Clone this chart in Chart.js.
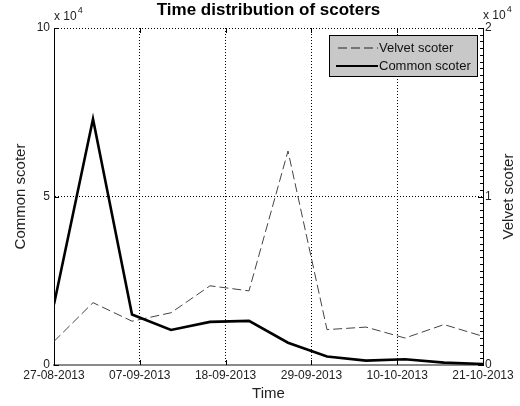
<!DOCTYPE html>
<html>
<head>
<meta charset="utf-8">
<script src="https://cdn.jsdelivr.net/npm/chart.js@4/dist/chart.umd.min.js"></script>
<style>
  html, body { margin: 0; padding: 0; background: #fff; }
  #wrap { width: 520px; height: 406px; }
</style>
</head>
<body>
<div id="wrap"><canvas id="c" width="520" height="406"></canvas></div>
<script>
// Survey dates (every 5 days) and counts per species
const sampleDates = ['2013-08-27','2013-09-01','2013-09-06','2013-09-11','2013-09-16','2013-09-21',
                     '2013-09-26','2013-10-01','2013-10-06','2013-10-11','2013-10-16','2013-10-21'];
const commonScoter = [18000, 73000, 15000, 10400, 12800, 13100, 6600, 2500, 1300, 1700, 700, 300];
const velvetScoter = [1400, 3700, 2600, 3100, 4700, 4400, 12700, 2100, 2250, 1600, 2400, 1700];
const xTickLabels = ['27-08-2013','07-09-2013','18-09-2013','29-09-2013','10-10-2013','21-10-2013'];
const leftTickLabels = ['0', '5', '10'];
const rightTickLabels = ['0', '1', '2'];

const FONT = "'Liberation Sans', Arial, Helvetica, sans-serif";
const TEXT = '#222';

const dayMs = 86400000;
const t0 = Date.parse(sampleDates[0] + 'T00:00:00Z');
const dayOffset = d => Math.round((Date.parse(d + 'T00:00:00Z') - t0) / dayMs);
const lastDay = dayOffset(sampleDates[sampleDates.length - 1]);
const toPoints = vals => vals.map((v, i) => ({ x: dayOffset(sampleDates[i]), y: v }));

// Title, axis titles, exponents, inward ticks and legend box
const decorations = {
  id: 'decorations',
  afterDraw(chart) {
    const ctx = chart.ctx;
    const a = chart.chartArea;
    const sx = chart.scales.x, sy = chart.scales.y, sy2 = chart.scales.y2;
    ctx.save();

    // inward tick marks
    ctx.strokeStyle = '#000';
    ctx.lineWidth = 1;
    ctx.setLineDash([]);
    ctx.beginPath();
    sx.ticks.forEach(t => {
      const px = Math.round(sx.getPixelForValue(t.value)) + 0.5;
      ctx.moveTo(px, a.bottom); ctx.lineTo(px, a.bottom - 5);
      ctx.moveTo(px, a.top); ctx.lineTo(px, a.top + 5);
    });
    sy.ticks.forEach(t => {
      const py = Math.round(sy.getPixelForValue(t.value)) + 0.5;
      ctx.moveTo(a.left, py); ctx.lineTo(a.left + 5, py);
    });
    sy2.ticks.forEach(t => {
      const py = Math.round(sy2.getPixelForValue(t.value)) + 0.5;
      ctx.moveTo(a.right, py); ctx.lineTo(a.right - 5, py);
    });
    for (let v = 0; v <= sy2.max; v += 400) {
      const py = Math.round(sy2.getPixelForValue(v)) + 0.5;
      ctx.moveTo(a.right, py); ctx.lineTo(a.right - 3, py);
    }
    ctx.stroke();

    // title
    ctx.fillStyle = '#000';
    ctx.textAlign = 'center';
    ctx.textBaseline = 'alphabetic';
    ctx.font = 'bold 17px ' + FONT;
    ctx.fillText('Time distribution of scoters', (a.left + a.right) / 2, 15);

    // exponent markers
    ctx.fillStyle = TEXT;
    ctx.textAlign = 'left';
    ctx.font = '12px ' + FONT;
    ctx.fillText('x 10', a.left, 20);
    ctx.fillText('x 10', a.right, 19);
    const w = ctx.measureText('x 10').width;
    ctx.font = '9px ' + FONT;
    ctx.fillText('4', a.left + w + 1, 13);
    ctx.fillText('4', a.right + w + 1, 12);

    // axis titles
    ctx.font = '15px ' + FONT;
    ctx.textAlign = 'center';
    ctx.textBaseline = 'middle';
    ctx.fillText('Time', (a.left + a.right) / 2, 394);
    ctx.save();
    ctx.translate(21, (a.top + a.bottom) / 2);
    ctx.rotate(-Math.PI / 2);
    ctx.fillText('Common scoter', 0, 0);
    ctx.restore();
    ctx.save();
    ctx.translate(509, (a.top + a.bottom) / 2);
    ctx.rotate(-Math.PI / 2);
    ctx.fillText('Velvet scoter', 0, 0);
    ctx.restore();

    // legend
    const lx = 329, ly = 35, lw = 149, lh = 42;
    ctx.fillStyle = '#c8c8c8';
    ctx.fillRect(lx, ly, lw, lh);
    ctx.strokeStyle = '#000';
    ctx.lineWidth = 1;
    ctx.strokeRect(lx + 0.5, ly + 0.5, lw - 1, lh - 1);
    const ds = chart.data.datasets;
    const rows = [ds[1], ds[0]];
    rows.forEach((d, i) => {
      const y = 48 + i * 18;
      ctx.strokeStyle = i === 0 ? '#222' : '#000';
      ctx.lineWidth = i === 0 ? 1 : 2;
      ctx.setLineDash(i === 0 ? [9, 4] : []);
      ctx.beginPath();
      ctx.moveTo(i === 0 ? 338 : 336, y);
      ctx.lineTo(378, y);
      ctx.stroke();
      ctx.setLineDash([]);
      ctx.fillStyle = '#111';
      ctx.textAlign = 'left';
      ctx.textBaseline = 'middle';
      ctx.font = '13px ' + FONT;
      ctx.fillText(d.label, 379, y);
    });
    ctx.restore();
  }
};

new Chart(document.getElementById('c'), {
  type: 'line',
  data: {
    datasets: [
      {
        label: 'Common scoter',
        data: toPoints(commonScoter),
        yAxisID: 'y',
        borderColor: '#000',
        borderWidth: 2.6,
        pointRadius: 0,
        tension: 0,
        fill: false,
        order: 0
      },
      {
        label: 'Velvet scoter',
        data: toPoints(velvetScoter),
        yAxisID: 'y2',
        borderColor: '#444',
        borderWidth: 1,
        borderDash: [9, 4],
        pointRadius: 0,
        tension: 0,
        fill: false,
        order: 1
      }
    ]
  },
  options: {
    responsive: false,
    devicePixelRatio: 1,
    animation: false,
    layout: { padding: { top: 28, left: 0, right: 0, bottom: 0 } },
    plugins: { legend: { display: false }, title: { display: false }, tooltip: { enabled: false } },
    scales: {
      x: {
        type: 'linear',
        min: 0,
        max: lastDay,
        afterFit: s => { s.height = 41; },
        afterBuildTicks: s => { s.ticks = xTickLabels.map((_, i) => ({ value: i * lastDay / (xTickLabels.length - 1) })); },
        ticks: {
          callback: (v, i) => xTickLabels[i],
          maxRotation: 0,
          autoSkip: false,
          padding: 3,
          color: TEXT,
          font: { family: FONT, size: 12 }
        },
        grid: { color: '#000', lineWidth: 1, drawTicks: false },
        border: { display: true, color: '#8a8a8a', width: 2, dash: [1, 2] }
      },
      y: {
        position: 'left',
        min: 0,
        max: 100000,
        afterFit: s => { s.width = 54; },
        afterBuildTicks: s => { s.ticks = leftTickLabels.map((_, i) => ({ value: i * 50000 })); },
        ticks: {
          callback: (v, i) => leftTickLabels[i],
          padding: 4,
          color: TEXT,
          font: { family: FONT, size: 12 }
        },
        grid: { color: '#000', lineWidth: 1, drawTicks: false },
        border: { display: true, color: '#000', width: 1, dash: [1, 2] }
      },
      y2: {
        position: 'right',
        min: 0,
        max: 20000,
        afterFit: s => { s.width = 37; },
        afterBuildTicks: s => { s.ticks = rightTickLabels.map((_, i) => ({ value: i * 10000 })); },
        ticks: {
          callback: (v, i) => rightTickLabels[i],
          padding: 2,
          color: TEXT,
          font: { family: FONT, size: 12 }
        },
        grid: { display: false, drawTicks: false },
        border: { display: true, color: '#000', width: 1 }
      }
    }
  },
  plugins: [decorations]
});
</script>
</body>
</html>
